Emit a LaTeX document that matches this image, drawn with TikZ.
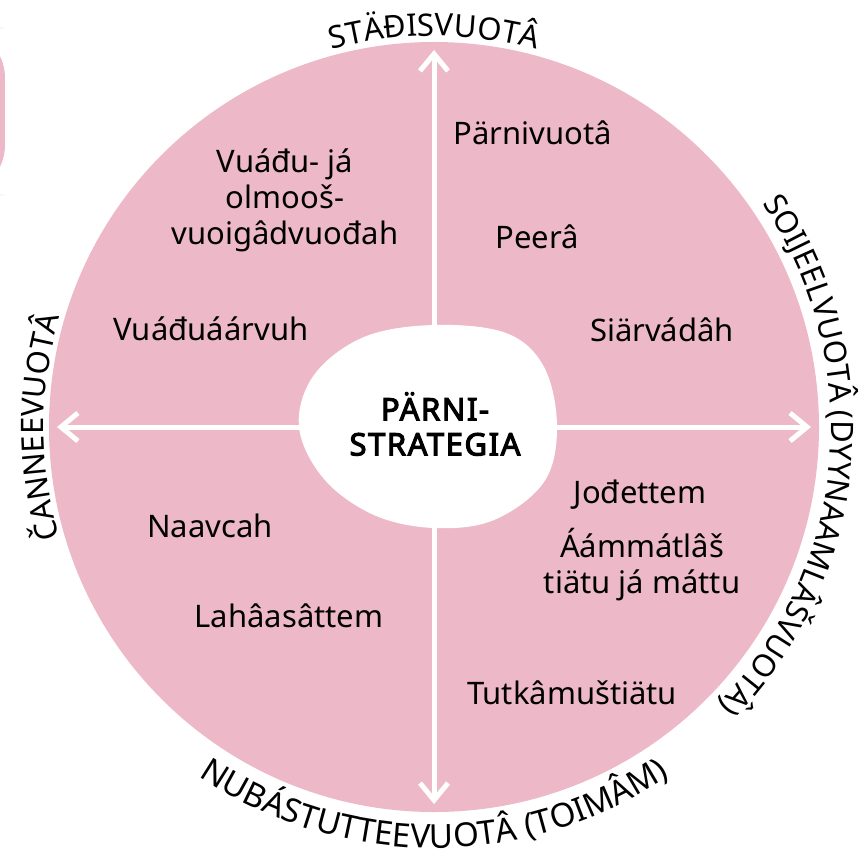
\documentclass[tikz,border=0pt]{standalone}
\usepackage{fontspec}
\setmainfont{Noto Sans}
\newfontfamily\corefont{Noto Sans}[FakeBold=3.5, LetterSpace=5]
\usetikzlibrary{arrows.meta,decorations.text}

\definecolor{roze}{RGB}{237,185,200}
\newcommand{\rimfont}{\fontsize{15.5}{18}\selectfont}
\newcommand{\rimbigfont}{\fontsize{16.5}{18}\selectfont}

\tikzstyle{txt}=[font=\fontsize{15.5}{18}\selectfont, align=center, inner sep=0pt]
\tikzstyle{axis}=[draw=white, line width=2.5pt, -{Straight Barb[length=8.5pt,width=14pt]}]
\tikzset{rim/.style={decorate, decoration={text along path, text align=center, text={|\rimfont|#1}}},
         rimbig/.style={decorate, decoration={text along path, text align=center, text={|\rimbigfont|#1}}}}

\begin{document}
\begin{tikzpicture}[x=0.5pt,y=0.5pt]
  \clip (-434,-430) rectangle (431,427);
  \def\radius{385}

  % pink disc and the strip at the left edge
  \fill[roze, rounded corners=25] (-480,232) rectangle (-429,399);
  \fill[roze] (0,0) circle[radius=\radius];

  % arrows out of the centre
  \coordinate (o) at (0,0);
  \foreach \a/\n in {90/n,270/s,0/e,180/w}{
    \coordinate (\n) at (\a:377);
    \draw[axis] (o) -- (\n);
  }

  % white pebble in the middle
  \fill[white] plot[smooth cycle, tension=0.6] coordinates {
    (0,102) (72,94) (110,60) (123,0) (110,-55) (60,-93) (0,-101)
    (-60,-88) (-110,-52) (-135,0) (-120,52) (-70,90)};
  \node (core) at (1,3) [txt, font=\fontsize{15.5}{17.5}\corefont] {PÄRNI-\\STRATEGIA};

  % texts round the disc
  \path[rim={STÄĐISVUOTÂ}] (135:391) arc[start angle=135, end angle=45, radius=391];
  \path[rim={SOIJEELVUOTÂ (DYYNAAMLÂŠVUOTÂ)}] (60:397) arc[start angle=60, end angle=-70, radius=397];
  \path[rim={ČANNEEVUOTÂ}] (225:390) arc[start angle=225, end angle=135, radius=390];
  \path[rimbig={NUBÁSTUTTEEVUOTÂ (TOIMÂM)}] (200:421) arc[start angle=200, end angle=340, radius=421];

  % quarter texts
  \node (q1) at (-149,227) [txt] {Vuáđu- já\\olmooš-\\vuoigâdvuođah};
  \node (q2) at (-223,98) [txt] {Vuáđuáárvuh};
  \node (q3) at (99,294) [txt] {Pärnivuotâ};
  \node (q4) at (103,190) [txt] {Peerâ};
  \node (q5) at (228,97) [txt] {Siärvádâh};
  \node (q6) at (206,-68) [txt] {Jođettem};
  \node (q7) at (208,-138) [txt] {Áámmátlâš\\tiätu já máttu};
  \node (q8) at (-224,-99) [txt] {Naavcah};
  \node (q9) at (-145,-189) [txt] {Lahâasâttem};
  \node (q10) at (138,-266) [txt] {Tutkâmuštiätu};
\end{tikzpicture}
\end{document}
